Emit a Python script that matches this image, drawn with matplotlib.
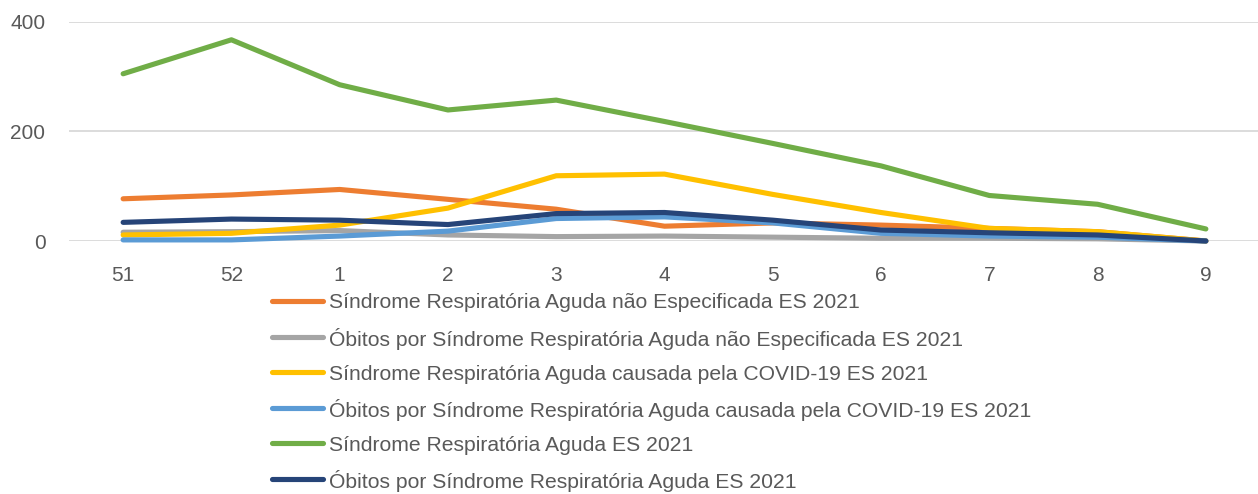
import matplotlib
matplotlib.use("Agg")
import matplotlib.pyplot as plt
from matplotlib.lines import Line2D

semanas = ['51', '52', '1', '2', '3', '4', '5', '6', '7', '8', '9']

srag_nao_espec = [77, 84, 94, 76, 58, 27, 33, 29, 23, 17, 0]
obitos_nao_espec = [16, 17, 19, 11, 8, 9, 7, 5, 5, 4, 0]
srag_covid = [11, 14, 29, 60, 119, 122, 85, 52, 23, 17, 0]
obitos_covid = [2, 2, 9, 18, 41, 44, 33, 14, 9, 7, 0]
srag_total = [305, 367, 285, 239, 257, 218, 178, 137, 83, 67, 22]
obitos_total = [34, 40, 38, 30, 50, 52, 38, 20, 15, 11, 0]

labels = [
    'Síndrome Respiratória Aguda não Especificada ES 2021',
    'Óbitos por Síndrome Respiratória Aguda não Especificada ES 2021',
    'Síndrome Respiratória Aguda causada pela COVID-19 ES 2021',
    'Óbitos por Síndrome Respiratória Aguda causada pela COVID-19 ES 2021',
    'Síndrome Respiratória Aguda ES 2021',
    'Óbitos por Síndrome Respiratória Aguda ES 2021',
]
series = [srag_nao_espec, obitos_nao_espec, srag_covid, obitos_covid, srag_total, obitos_total]
colors = ['#ED7D31', '#A5A5A5', '#FFC000', '#5B9BD5', '#70AD47', '#264478']

plt.rcParams['font.family'] = ['Liberation Sans', 'DejaVu Sans']
txt = '#595959'
W, H = 1258, 494

fig = plt.figure(figsize=(W / 100, H / 100), dpi=100)
ax = fig.add_axes([69 / W, (H - 241) / H, 1191 / W, 219.3 / H])

x = list(range(len(semanas)))
for vals, lab, c in zip(series, labels, colors):
    ax.plot(x, vals, color=c, lw=3.7, label=lab, solid_capstyle='round',
            solid_joinstyle='round', clip_on=False)

ax.set_xlim(-0.5, len(semanas) - 0.5)
ax.set_ylim(0, 400)
ax.set_yticks([0, 200, 400])
ax.set_xticks(x)
ax.set_xticklabels(semanas)
ax.grid(axis='y', color='#D9D9D9', lw=1.3)
ax.set_axisbelow(True)
for s in ax.spines.values():
    s.set_visible(False)
ax.tick_params(length=0, labelsize=15, colors=txt)
ax.tick_params(axis='x', pad=18)
ax.tick_params(axis='y', pad=17)

# legend drawn row by row so spacing stays even
for i, (lab, c) in enumerate(zip(labels, colors)):
    yc = (H - (301 + i * 35.6)) / H
    fig.add_artist(Line2D([272 / W, 323 / W], [yc, yc], color=c, lw=3.7,
                          solid_capstyle='round', transform=fig.transFigure))
    fig.text(329 / W, yc, lab, color=txt, fontsize=15.2, va='center_baseline', ha='left')

fig.savefig('out.png', dpi=100)
